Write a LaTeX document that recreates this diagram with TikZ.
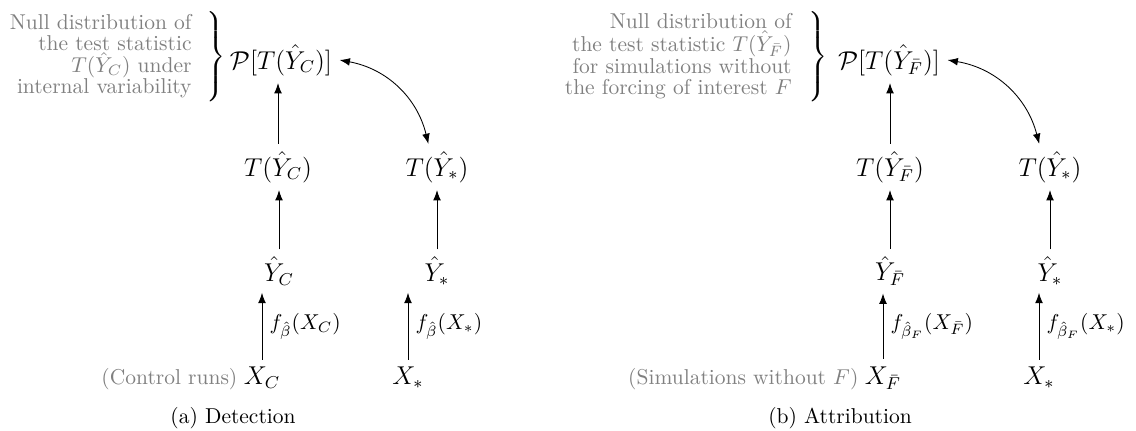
\documentclass[tikz,border=0pt]{standalone}
\usetikzlibrary{arrows.meta}
\begin{document}
\begin{tikzpicture}[x=0.4651pt,y=-0.4651pt,
  mnode/.style={font=\large},
  graytext/.style={text=gray, align=right, inner sep=0pt, anchor=east, font=\fontsize{10}{9.5}\selectfont},
  sidelabel/.style={text=gray, anchor=base east, inner sep=0pt},
  bracenode/.style={anchor=west, inner sep=0pt},
  arr/.style={-{Latex}},
  darr/.style={{Latex}-{Latex}},
  elabel/.style={right, midway, font=\normalsize},
  caption/.style={font=\normalsize}
]
\useasboundingbox (0,0) rectangle (1136,430);

% ---------- (a) Detection ----------
\node[mnode] (PC) at (281,60) {$\mathcal{P}[T(\hat{Y}_C)]$};
\node[mnode] (TC) at (278,167) {$T(\hat{Y}_C)$};
\node[mnode] (YC) at (279,271) {$\hat{Y}_C$};
\node[mnode] (XC) at (262,378) {$X_C$};
\node[mnode] (TSa) at (437,167) {$T(\hat{Y}_*)$};
\node[mnode] (YSa) at (437,271) {$\hat{Y}_*$};
\node[mnode] (XSa) at (408,378) {$X_*$};

\node[graytext] (GC) at (192,56) {Null distribution of\\ the test statistic\\ $T(\hat{Y}_C)$ under\\ internal variability};
\node[bracenode] (BC) at (203,57) {$\left.\vcenter{\hrule height 41pt width 0pt}\right\}$};
\node[sidelabel] (LC) at ([xshift=0.7pt]XC.base west) {(Control runs)};

\draw[arr] (XC.north) -- (XC.north |- YC.south) node[elabel] {$f_{\hat{\beta}}(X_C)$};
\draw[arr] (YC.north) -- (YC.north |- TC.south);
\draw[arr] (TC.north) -- (TC.north |- PC.south);
\draw[arr] (XSa.north) -- (XSa.north |- YSa.south) node[elabel] {$f_{\hat{\beta}}(X_*)$};
\draw[arr] (YSa.north) -- (YSa.north |- TSa.south);
\draw[darr] (PC.east) to[bend left=33] ([xshift=-4pt]TSa.north);

\node[caption] (capA) at (233,418) {(a) Detection};

% ---------- (b) Attribution ----------
\node[mnode] (PF) at (889,60) {$\mathcal{P}[T(\hat{Y}_{\bar{F}})]$};
\node[mnode] (TF) at (890,167) {$T(\hat{Y}_{\bar{F}})$};
\node[mnode] (YF) at (890,271) {$\hat{Y}_{\bar{F}}$};
\node[mnode] (XF) at (883,378) {$X_{\bar{F}}$};
\node[mnode] (TSb) at (1050,167) {$T(\hat{Y}_*)$};
\node[mnode] (YSb) at (1050,271) {$\hat{Y}_*$};
\node[mnode] (XSb) at (1039,378) {$X_*$};

\node[graytext] (GF) at (792,56) {Null distribution of\\ the test statistic $T(\hat{Y}_{\bar{F}})$\\ for simulations without\\ the forcing of interest $F$};
\node[bracenode] (BF) at (805,57) {$\left.\vcenter{\hrule height 41pt width 0pt}\right\}$};
\node[sidelabel] (LF) at ([xshift=0.7pt]XF.base west) {(Simulations without $F$)};

\draw[arr] (XF.north) -- (XF.north |- YF.south) node[elabel] {$f_{\hat{\beta}_F}(X_{\bar{F}})$};
\draw[arr] (YF.north) -- (YF.north |- TF.south);
\draw[arr] (TF.north) -- (TF.north |- PF.south);
\draw[arr] (XSb.north) -- (XSb.north |- YSb.south) node[elabel] {$f_{\hat{\beta}_F}(X_*)$};
\draw[arr] (YSb.north) -- (YSb.north |- TSb.south);
\draw[darr] (PF.east) to[bend left=33] ([xshift=-5pt]TSb.north);

\node[caption] (capB) at (840,418) {(b) Attribution};
\end{tikzpicture}
\end{document}
